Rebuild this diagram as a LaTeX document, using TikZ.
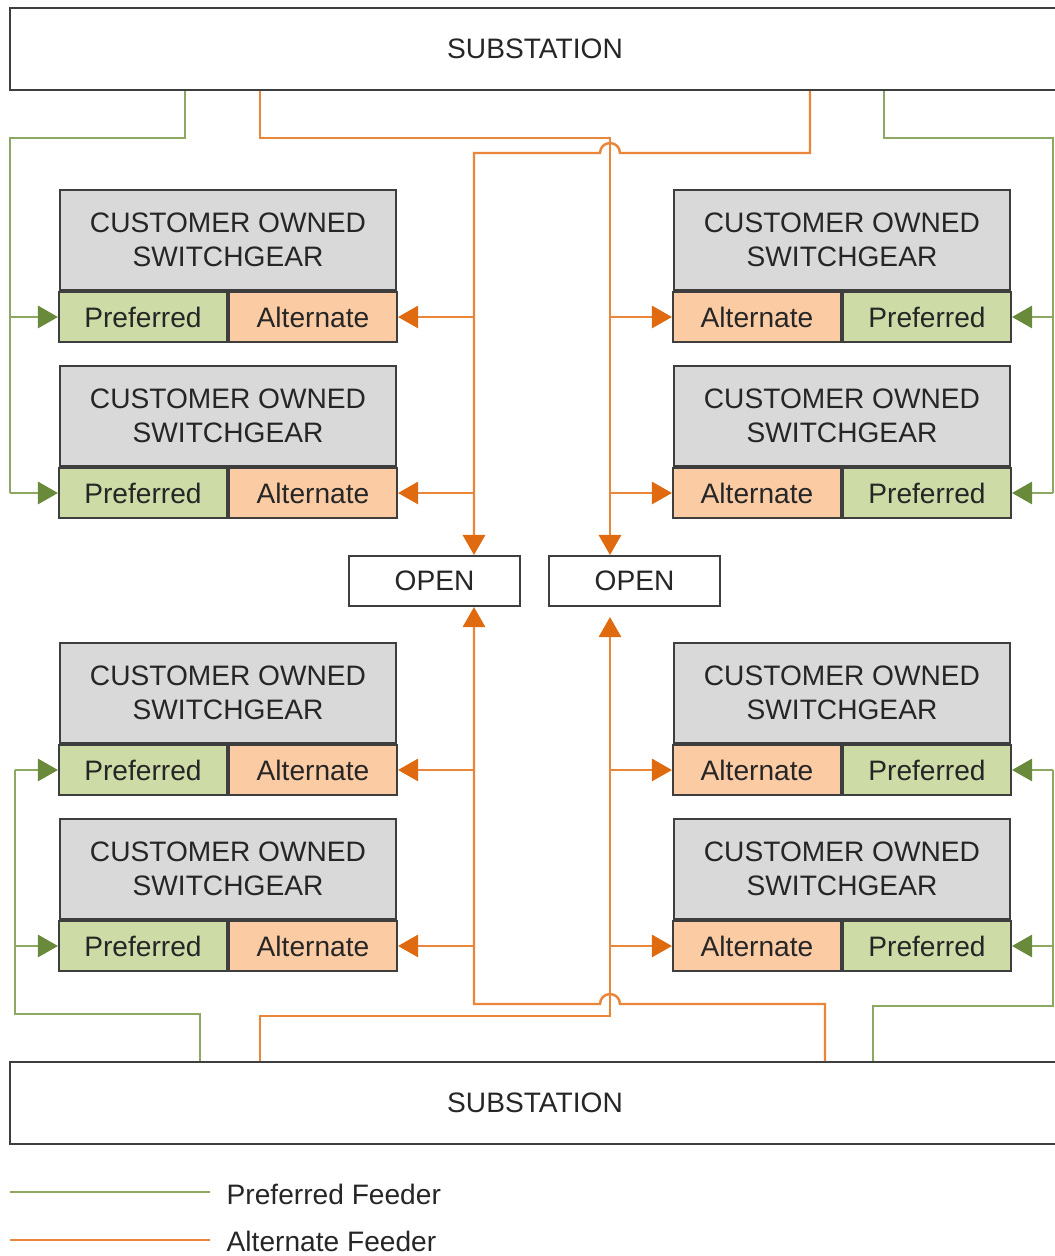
\documentclass[tikz,border=0pt]{standalone}
\usepackage{fontspec}
\setmainfont{Liberation Sans}
\usetikzlibrary{arrows.meta}
\usetikzlibrary{positioning}
\definecolor{prefgreen}{RGB}{140,168,98}
\definecolor{preftipgreen}{RGB}{104,138,58}
\definecolor{altorange}{RGB}{234,134,58}
\definecolor{alttiporange}{RGB}{224,106,16}
\definecolor{preffill}{RGB}{205,220,167}
\definecolor{altfill}{RGB}{251,203,164}
\definecolor{geargray}{RGB}{217,217,217}
\definecolor{edgegray}{RGB}{62,62,62}
\tikzset{boxbase/.style = {draw = edgegray, line width = 0.55pt, inner sep = 0, text = black!85,
    font = \fontsize{8pt}{9.7pt}\selectfont}}
\tikzset{gearbox/.style = {boxbase, fill = geargray, minimum width = 3.36cm, minimum height = 1cm, align = center}}
\tikzset{prefcell/.style = {boxbase, fill = preffill, minimum width = 1.68cm, minimum height = 0.5cm}}
\tikzset{altcell/.style = {boxbase, fill = altfill, minimum width = 1.68cm, minimum height = 0.5cm}}
\tikzset{subbox/.style = {boxbase, fill = white, minimum width = 10.5cm, minimum height = 0.82cm}}
\tikzset{openbox/.style = {boxbase, fill = white, minimum width = 1.71cm, minimum height = 0.5cm}}
\tikzset{legendtext/.style = {anchor = west, inner sep = 0, text = black!85, font = \fontsize{8pt}{9.7pt}\selectfont}}
\tikzset{prefline/.style = {draw = prefgreen, line width = 0.7pt}}
\tikzset{altline/.style = {draw = altorange, line width = 0.7pt}}
\tikzset{preftip/.style = {prefline, -{Triangle[length = 5.7pt, width = 6.3pt, color = preftipgreen]}}}
\tikzset{alttip/.style = {altline, -{Triangle[length = 5.7pt, width = 6.3pt, color = alttiporange]}}}

\begin{document}
\begin{tikzpicture}[x = 0.01cm, y = -0.01cm]
      \useasboundingbox (0, 0) rectangle (1055, 1256);
      \clip (0, 0) rectangle (1055, 1256);

      \node [subbox] (subT) at (535, 49) {SUBSTATION};
      \node [subbox] (subB) at (535, 1103) {SUBSTATION};
      \node [openbox] (openL) at (434.5, 581) {OPEN};
      \node [openbox] (openR) at (634.5, 581) {OPEN};

      % switchgear, left and right column
      \foreach \i/\y in {1/240, 2/416, 3/693, 4/869} {
        \node [gearbox] (gL\i) at (228, \y) {CUSTOMER OWNED\\SWITCHGEAR};
        \node [prefcell, anchor = north east] (pL\i) at (gL\i.south) {Preferred};
        \node [altcell, anchor = north west] (aL\i) at (gL\i.south) {Alternate};
        \node [gearbox] (gR\i) at (842, \y) {CUSTOMER OWNED\\SWITCHGEAR};
        \node [altcell, anchor = north east] (aR\i) at (gR\i.south) {Alternate};
        \node [prefcell, anchor = north west] (pR\i) at (gR\i.south) {Preferred};
      }

      \coordinate (trR) at (610, 138);
      \coordinate (trL) at (474, 153);
      \coordinate (brR) at (610, 1016);
      \coordinate (brL) at (474, 1004);
      \coordinate (gTL) at (10, 138);
      \coordinate (gTR) at (1053, 138);
      \coordinate (gBL) at (15, 1014);
      \coordinate (gBR) at (1053, 1006);

      % alternate feeders
      \draw [alttip] (subT.south -| 260,0) |- (trR) -- (trR |- openR.north);
      \draw [alttip] (subT.south -| 810,0) |- (620, 153) arc (0:-180:10) -- (trL) -- (trL |- openL.north);
      \draw [alttip, shorten > = 1mm] (subB.north -| 260,0) |- (brR) -- (brR |- openR.south);
      \draw [alttip] (subB.north -| 825,0) |- (620, 1004) arc (0:-180:10) -- (brL) -- (brL |- openL.south);
      \foreach \i in {1, 2} {
        \draw [alttip] (trL |- aL\i.east) -- (aL\i.east);
        \draw [alttip] (trR |- aR\i.west) -- (aR\i.west);
      }
      \foreach \i in {3, 4} {
        \draw [alttip] (brL |- aL\i.east) -- (aL\i.east);
        \draw [alttip] (brR |- aR\i.west) -- (aR\i.west);
      }

      % preferred feeders
      \draw [prefline] (subT.south -| 185,0) |- (gTL) -- (gTL |- pL2.west);
      \draw [prefline] (subT.south -| 884,0) |- (gTR) -- (gTR |- pR2.east);
      \draw [prefline] (subB.north -| 200,0) |- (gBL) -- (gBL |- pL3.west);
      \draw [prefline] (subB.north -| 873,0) |- (gBR) -- (gBR |- pR3.east);
      \foreach \i in {1, 2} {
        \draw [preftip] (gTL |- pL\i.west) -- (pL\i.west);
        \draw [preftip] (gTR |- pR\i.east) -- (pR\i.east);
      }
      \foreach \i in {3, 4} {
        \draw [preftip] (gBL |- pL\i.west) -- (pL\i.west);
        \draw [preftip] (gBR |- pR\i.east) -- (pR\i.east);
      }

      % legend
      \coordinate (lgP0) at (10, 1192);
      \coordinate (lgP1) at (210, 1192);
      \coordinate (lgA0) at (10, 1240);
      \coordinate (lgA1) at (210, 1240);
      \draw [prefline] (lgP0) -- (lgP1);
      \draw [altline] (lgA0) -- (lgA1);
      \node [legendtext] (lgP) at (226, 1194) {Preferred Feeder};
      \node [legendtext] (lgA) at (226, 1241) {Alternate Feeder};
    \end{tikzpicture}
\end{document}
